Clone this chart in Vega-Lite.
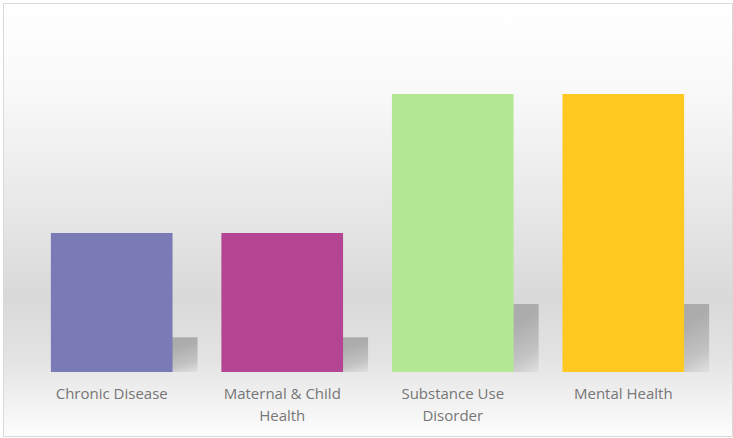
{
  "$schema": "https://vega.github.io/schema/vega-lite/v6.json",
  "width": 729,
  "height": 433,
  "autosize": "none",
  "padding": {"left": 3, "top": 3, "right": 1, "bottom": 2},
  "background": "#ffffff",
  "view": {
    "stroke": "#d9d9d9",
    "strokeWidth": 1,
    "fill": {
      "gradient": "linear",
      "x1": 0, "y1": 0, "x2": 0, "y2": 1,
      "stops": [
        {"offset": 0, "color": "#ffffff"},
        {"offset": 0.2, "color": "#f9f9f9"},
        {"offset": 0.45, "color": "#e9e9e9"},
        {"offset": 0.68, "color": "#d9d9d9"},
        {"offset": 0.82, "color": "#e3e3e3"},
        {"offset": 0.9, "color": "#efefef"},
        {"offset": 1, "color": "#fdfdfd"}
      ]
    }
  },
  "data": {
    "values": [
      {"cat": "Chronic Disease", "label": "Chronic Disease", "value": 1, "shadow": 0.25},
      {"cat": "Maternal & Child Health", "label": "Maternal & Child\nHealth", "value": 1, "shadow": 0.25},
      {"cat": "Substance Use Disorder", "label": "Substance Use\nDisorder", "value": 2, "shadow": 0.49},
      {"cat": "Mental Health", "label": "Mental Health", "value": 2, "shadow": 0.49}
    ]
  },
  "encoding": {
    "x": {
      "field": "cat",
      "type": "nominal",
      "sort": null,
      "axis": null,
      "scale": {"paddingInner": 0.2865, "paddingOuter": 0.2807}
    }
  },
  "layer": [
    {
      "mark": {
        "type": "bar",
        "xOffset": 25,
        "fill": {
          "gradient": "linear",
          "x1": 0, "y1": 0, "x2": 1, "y2": 1,
          "stops": [
            {"offset": 0, "color": "#a9a9a9"},
            {"offset": 0.55, "color": "#acacac"},
            {"offset": 0.82, "color": "#c2c2c2"},
            {"offset": 1, "color": "#e0e0e0"}
          ]
        }
      },
      "encoding": {
        "y": {"field": "shadow", "type": "quantitative", "axis": null, "scale": {"domain": [-0.46, 2.655], "nice": false, "zero": false}},
        "y2": {"datum": 0}
      }
    },
    {
      "mark": {"type": "bar"},
      "encoding": {
        "y": {"field": "value", "type": "quantitative"},
        "y2": {"datum": 0},
        "color": {
          "field": "cat",
          "type": "nominal",
          "sort": null,
          "legend": null,
          "scale": {
            "domain": ["Chronic Disease", "Maternal & Child Health", "Substance Use Disorder", "Mental Health"],
            "range": ["#797ab6", "#b44592", "#b5e895", "#ffc921"]
          }
        }
      }
    },
    {
      "mark": {
        "type": "text",
        "baseline": "top",
        "align": "center",
        "lineBreak": "\n",
        "lineHeight": 22,
        "font": "Open Sans",
        "fontSize": 15,
        "color": "#767676"
      },
      "encoding": {
        "y": {"datum": -0.105},
        "text": {"field": "label"}
      }
    }
  ]
}
